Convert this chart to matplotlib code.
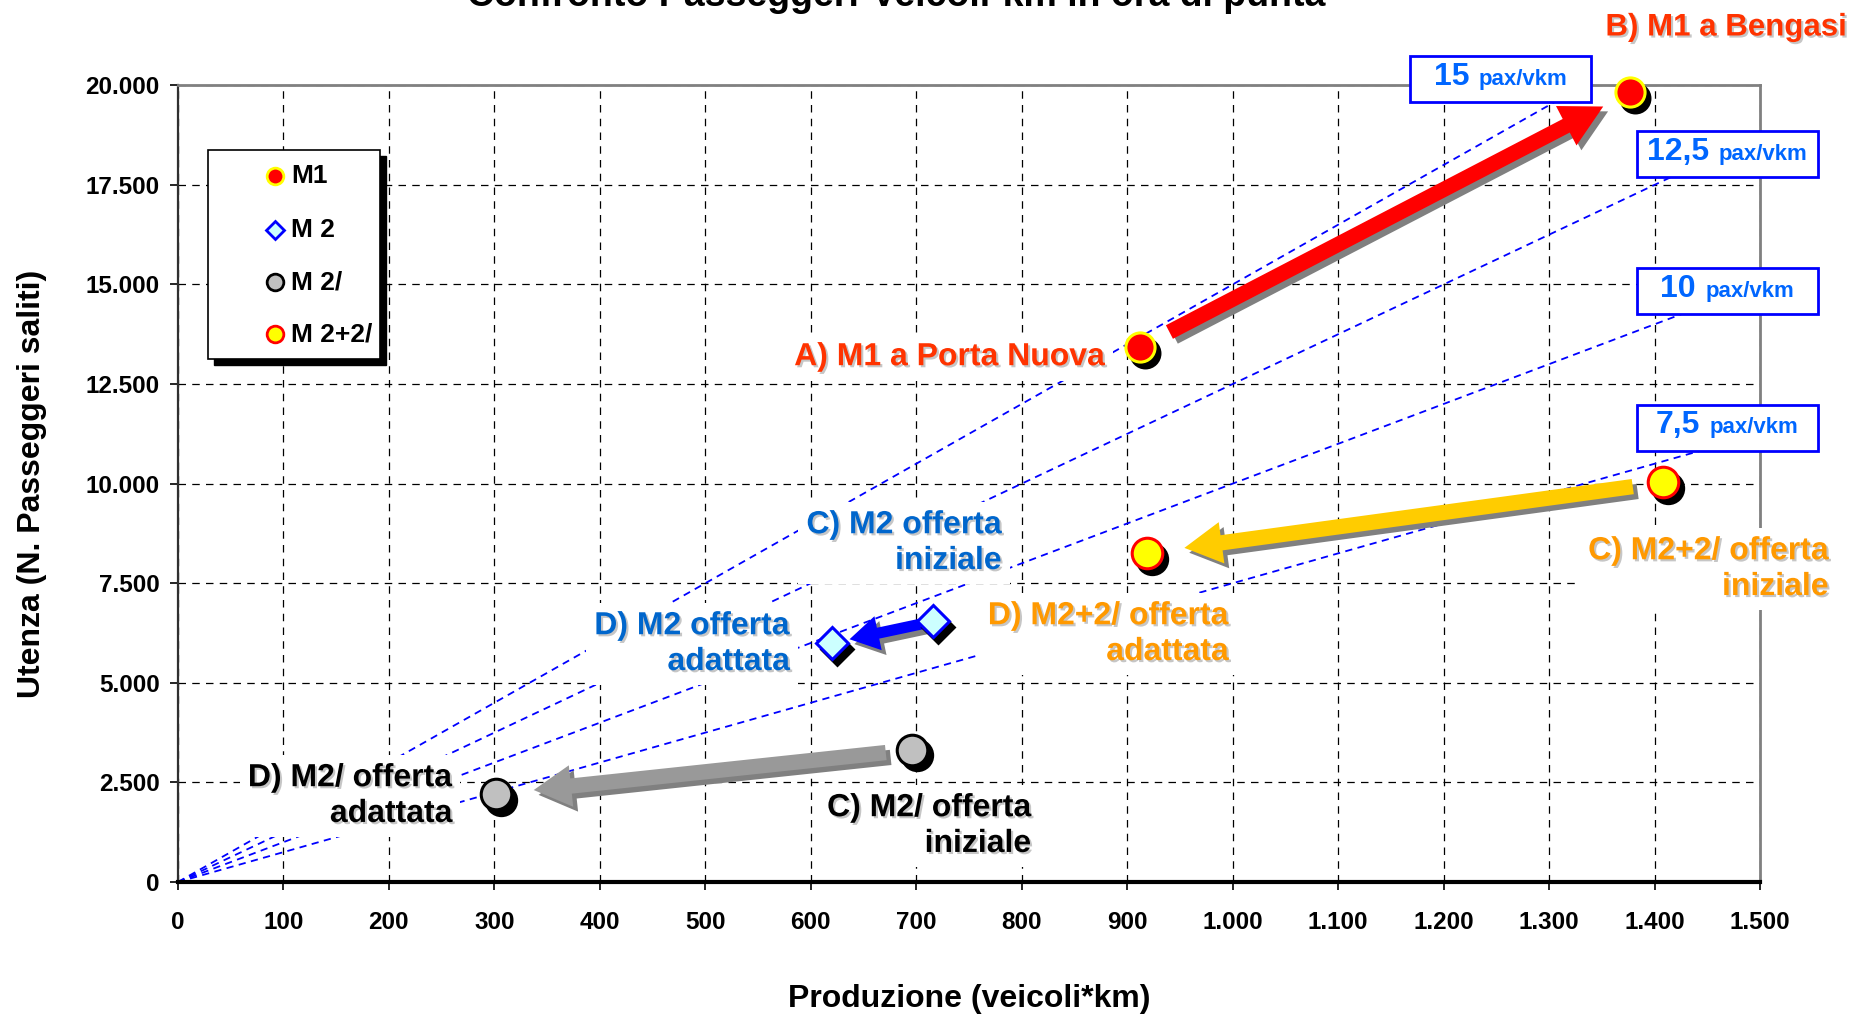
import numpy as np
import matplotlib
matplotlib.use("Agg")
import matplotlib.pyplot as plt
import matplotlib.patheffects as pe
import matplotlib.transforms as mtransforms
from matplotlib.patches import FancyArrowPatch, Rectangle, ArrowStyle
from matplotlib.offsetbox import TextArea, HPacker, AnnotationBbox
from matplotlib.ticker import FuncFormatter

plt.rcParams["font.family"] = ["Liberation Sans", "DejaVu Sans"]
plt.rcParams["font.weight"] = "bold"

# --- dati: produzione (veicoli*km) e utenza, [offerta iniziale, offerta adattata]
series = ["M1", "M 2", "M 2/", "M 2+2/"]
m1_prod = [912, 1377]
m1_pax = [13420, 19820]
m2_prod = [716, 620]
m2_pax = [6540, 6000]
m2s_prod = [696, 302]
m2s_pax = [3320, 2210]
m22_prod = [1408, 919]
m22_pax = [10030, 8260]

# rette di iso-rendimento (passeggeri per veicolo*km)
iso_rates = [7.5, 10, 12.5, 15]
iso_text = ["7,5", "10", "12,5", "15"]

x_ticks = np.arange(0, 1501, 100)
y_ticks = np.arange(0, 20001, 2500)

# ---------------------------------------------------------------
fig = plt.figure(figsize=(18.57, 10.15), dpi=100)
ax = fig.add_axes([0.0958, 0.131, 0.852, 0.785])
ax.set_xlim(0, 1500)
ax.set_ylim(0, 20000)
ax.set_xticks(x_ticks)
ax.set_yticks(y_ticks)

thousands = FuncFormatter(lambda v, p: f"{v:,.0f}".replace(",", "."))
ax.xaxis.set_major_formatter(thousands)
ax.yaxis.set_major_formatter(thousands)

ax.grid(True, color="black", linestyle=(0, (6, 5)), linewidth=0.9)
ax.set_axisbelow(True)

ax.spines["top"].set_color("#808080")
ax.spines["right"].set_color("#808080")
ax.spines["top"].set_linewidth(2)
ax.spines["right"].set_linewidth(2)
ax.spines["left"].set_color("#303030")
ax.spines["left"].set_linewidth(1.6)
ax.spines["bottom"].set_color("black")
ax.spines["bottom"].set_linewidth(3)

ax.tick_params(axis="both", direction="out", length=6, width=1.2, labelsize=17.5)
ax.tick_params(axis="x", pad=15)
ax.tick_params(axis="y", pad=7)

ax.set_xlabel("Produzione (veicoli*km)", fontsize=23, fontweight="bold")
ax.set_ylabel("Utenza (N. Passeggeri saliti)", fontsize=23, fontweight="bold")
ax.xaxis.set_label_coords(0.5, -0.128)
ax.yaxis.set_label_coords(-0.083, 0.5)

# titolo (tagliato dal bordo superiore)
fig.text(0.4825, 0.9945, "Confronto Passeggeri-Veicoli-km in ora di punta",
         fontsize=27, fontweight="bold", ha="center", va="baseline")

# --- etichette delle rette (riquadri) e rette tratteggiate
box_w, box_h = 172, 1150
box_centers = {"15": (1254, 20150), "12,5": (1469, 18268),
               "10": (1469, 14830), "7,5": (1469, 11405)}

for rate, lab in zip(iso_rates, iso_text):
    cx, cy = box_centers[lab]
    x_end = (cy - box_h / 2) / rate
    xs = np.array([0, x_end])
    ax.plot(xs, rate * xs, color="#0000FF", linestyle=(0, (4, 3)),
            linewidth=1.3, zorder=2)

    ax.add_patch(Rectangle((cx - box_w / 2, cy - box_h / 2), box_w, box_h,
                           facecolor="white", edgecolor="#0000FF",
                           linewidth=2, zorder=8, clip_on=False))
    num = TextArea(lab, textprops=dict(color="#0066FF", fontsize=23,
                                       fontweight="bold"))
    unit = TextArea("pax/vkm", textprops=dict(color="#0066FF", fontsize=16,
                                              fontweight="bold"))
    pack = HPacker(children=[num, unit], align="baseline", pad=0, sep=7)
    ab = AnnotationBbox(pack, (cx, cy), xycoords="data", frameon=False,
                        box_alignment=(0.5, 0.42), annotation_clip=False)
    ab.set_zorder(9)
    ax.add_artist(ab)

# --- punti con ombra
styles = {
    "M1": dict(marker="o", mfc="#FF0000", mec="#FFFF00", ms=21, lms=12),
    "M 2": dict(marker="D", mfc="#CCFFFF", mec="#0000FF", ms=16, lms=9.5),
    "M 2/": dict(marker="o", mfc="#C0C0C0", mec="#000000", ms=22, lms=12),
    "M 2+2/": dict(marker="o", mfc="#FFFF00", mec="#FF0000", ms=22, lms=12),
}
points = {"M1": (m1_prod, m1_pax), "M 2": (m2_prod, m2_pax),
          "M 2/": (m2s_prod, m2s_pax), "M 2+2/": (m22_prod, m22_pax)}

shadow_trans = mtransforms.offset_copy(ax.transData, fig=fig, x=3.5, y=-4,
                                       units="points")

# frecce: dal punto iniziale al punto finale di ogni serie
arrow_fmt = {
    "M1": dict(color="#FF0000", tail=11, hw=32, hl=30, sa=24, sb=22),
    "M 2": dict(color="#0000FF", tail=8, hw=25, hl=21, sa=8, sb=13),
    "M 2/": dict(color="#999999", tail=11, hw=30, hl=27, sa=19, sb=27),
    "M 2+2/": dict(color="#FFCC00", tail=11, hw=30, hl=27, sa=22, sb=27),
}

for name in series:
    xs, ys = points[name]
    st = styles[name]
    ax.plot(xs, ys, linestyle="none", marker=st["marker"], ms=st["ms"],
            mfc="black", mec="black", mew=2, transform=shadow_trans,
            zorder=5, clip_on=False)
    ax.plot(xs, ys, linestyle="none", marker=st["marker"], ms=st["ms"],
            mfc=st["mfc"], mec=st["mec"], mew=2.2, zorder=6, clip_on=False)

    af = arrow_fmt[name]
    arr = FancyArrowPatch((xs[0], ys[0]), (xs[1], ys[1]),
                          arrowstyle=ArrowStyle.Simple(head_length=af["hl"],
                                                       head_width=af["hw"],
                                                       tail_width=af["tail"]),
                          mutation_scale=1, shrinkA=af["sa"], shrinkB=af["sb"],
                          facecolor=af["color"], edgecolor="none", zorder=4)
    arr.set_path_effects([pe.SimplePatchShadow(offset=(3.5, -3.5),
                                               shadow_rgbFace="#808080",
                                               alpha=1.0),
                          pe.Normal()])
    ax.add_patch(arr)

# --- etichette dei punti
labels = [
    ("A) M1 a Porta Nuova", 879, 13174, "#FF3300", 23),
    ("B) M1 a Bengasi", 1582, 21450, "#FF3300", 22.5),
    ("C) M2 offerta\niniziale", 781, 8507, "#0066CC", 23),
    ("D) M2 offerta\nadattata", 580, 5972, "#0066CC", 23),
    ("C) M2+2/ offerta\niniziale", 1565, 7854, "#FF9900", 23),
    ("D) M2+2/ offerta\nadattata", 996, 6223, "#FF9900", 23),
    ("D) M2/ offerta\nadattata", 260, 2158, "black", 23),
    ("C) M2/ offerta\niniziale", 809, 1405, "black", 23),
]
for txt, lx, ly, col, fs in labels:
    t = ax.text(lx, ly, txt, color=col, fontsize=fs, fontweight="bold",
                ha="right", va="center", multialignment="right",
                linespacing=1.25, zorder=3, clip_on=False,
                bbox=dict(facecolor="white", edgecolor="none", pad=6))
    t.set_path_effects([pe.SimplePatchShadow(offset=(1.5, -1.5),
                                             shadow_rgbFace="#A0A0A0",
                                             alpha=0.6),
                        pe.Normal()])

# --- legenda
lx0, ly0, lx1, ly1 = 0.019, 0.656, 0.1277, 0.9184
ax.add_patch(Rectangle((lx0 + 0.0038, ly0 - 0.0075), lx1 - lx0, ly1 - ly0,
                       transform=ax.transAxes, facecolor="black",
                       edgecolor="black", zorder=9))
ax.add_patch(Rectangle((lx0, ly0), lx1 - lx0, ly1 - ly0,
                       transform=ax.transAxes, facecolor="white",
                       edgecolor="black", linewidth=1.2, zorder=10))
for name, ey in zip(series, [0.8858, 0.8181, 0.7528, 0.6876]):
    st = styles[name]
    ax.plot([0.0613], [ey], transform=ax.transAxes, linestyle="none",
            marker=st["marker"], ms=st["lms"], mfc=st["mfc"], mec=st["mec"],
            mew=2, zorder=11)
    ax.text(0.0714, ey, name, transform=ax.transAxes, fontsize=19,
            fontweight="bold", va="center", ha="left", zorder=11)

fig.savefig("out.png", dpi=100)
